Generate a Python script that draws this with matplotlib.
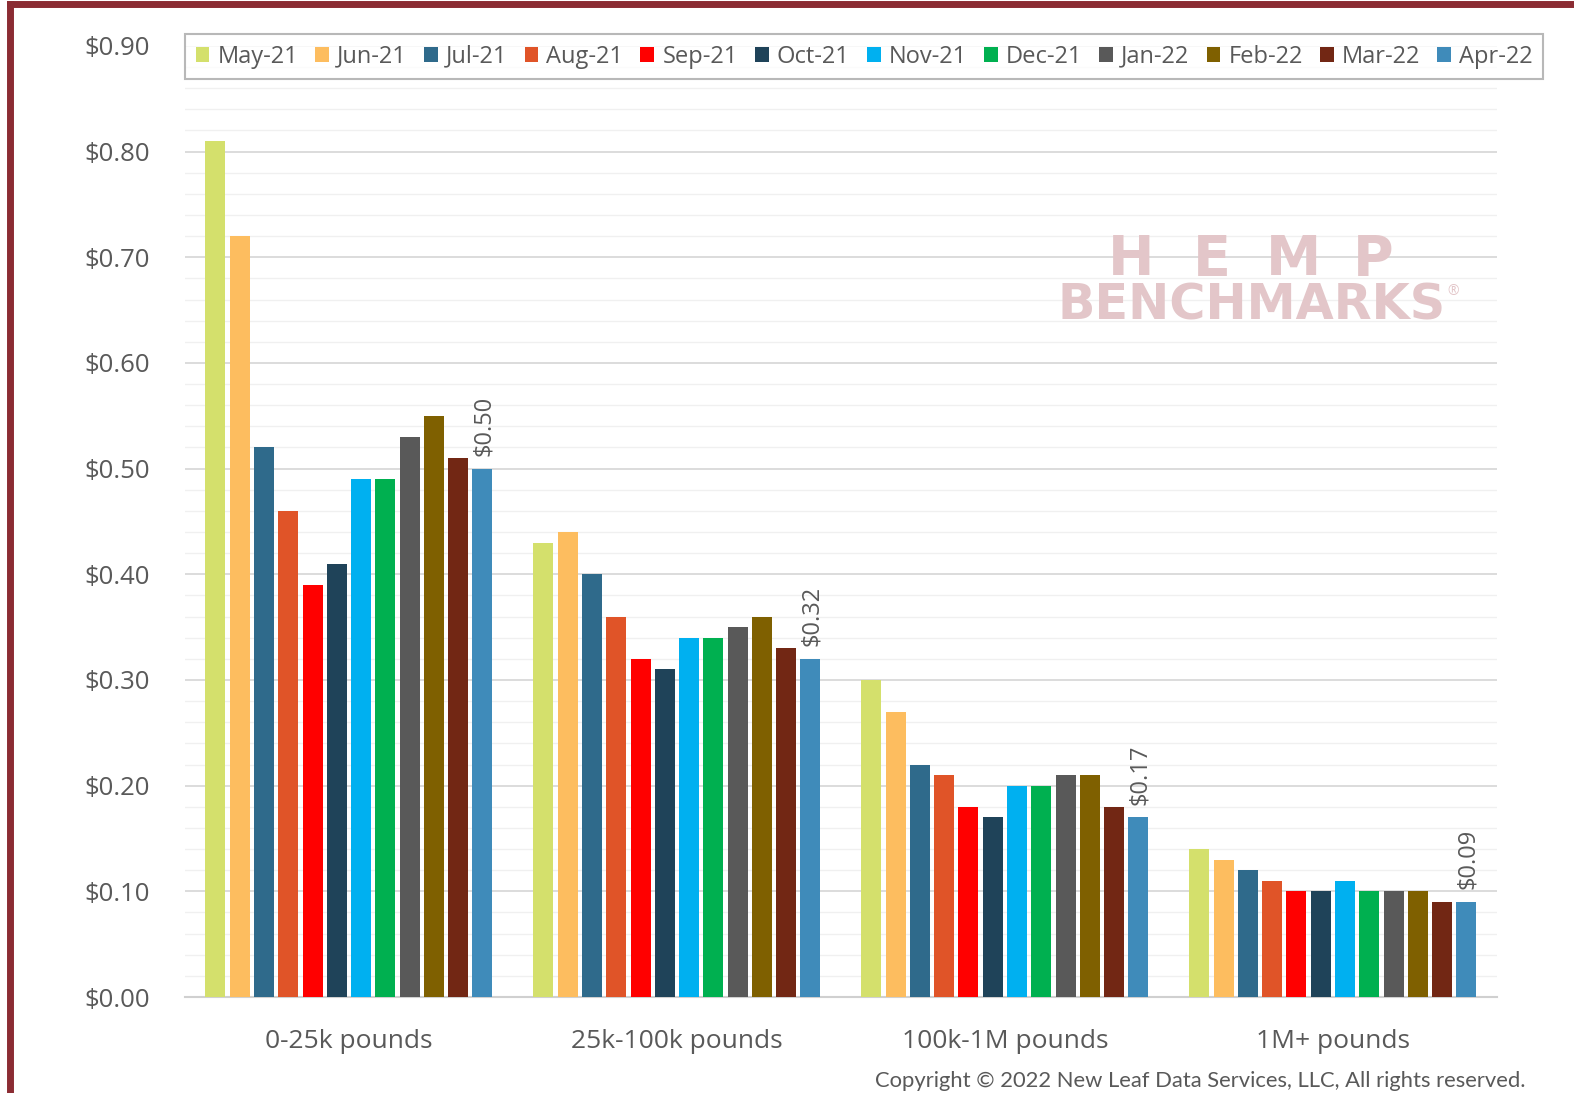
import numpy as np
import matplotlib.pyplot as plt
from matplotlib.patches import Patch
from matplotlib.ticker import MultipleLocator, FuncFormatter

plt.rcParams['font.family'] = ['Open Sans', 'DejaVu Sans']

groups = ['0-25k pounds', '25k-100k pounds', '100k-1M pounds', '1M+ pounds']
months = ['May-21', 'Jun-21', 'Jul-21', 'Aug-21', 'Sep-21', 'Oct-21',
          'Nov-21', 'Dec-21', 'Jan-22', 'Feb-22', 'Mar-22', 'Apr-22']
colors = ['#D4E06C', '#FDBD5F', '#2F6A8B', '#E05428', '#FF0000', '#1F4359',
          '#00B0F0', '#00B050', '#595959', '#7F6000', '#722714', '#3F8BBA']

price_0_25k = [0.81, 0.72, 0.52, 0.46, 0.39, 0.41, 0.49, 0.49, 0.53, 0.55, 0.51, 0.50]
price_25k_100k = [0.43, 0.44, 0.40, 0.36, 0.32, 0.31, 0.34, 0.34, 0.35, 0.36, 0.33, 0.32]
price_100k_1m = [0.30, 0.27, 0.22, 0.21, 0.18, 0.17, 0.20, 0.20, 0.21, 0.21, 0.18, 0.17]
price_1m_plus = [0.14, 0.13, 0.12, 0.11, 0.10, 0.10, 0.11, 0.10, 0.10, 0.10, 0.09, 0.09]

data = np.array([price_0_25k, price_25k_100k, price_100k_1m, price_1m_plus])
gray = '#595959'
wm = '#e3c6c9'

fig = plt.figure(figsize=(15.74, 10.93), dpi=100)
ax = fig.add_axes([0.1175, 0.0878, 0.8335, 0.8702])

x = np.arange(len(groups))
step = 0.074
width = 0.061
for i, m in enumerate(months):
    offs = (i - 5.5) * step
    ax.bar(x + offs, data[:, i], width=width, color=colors[i], zorder=3)

# labels on the latest month
for g in range(len(groups)):
    v = data[g, -1]
    ax.text(x[g] + 5.5 * step + 0.005, v + 0.012, f'${v:.2f}', rotation=90,
            ha='center', va='bottom', fontsize=17, color=gray, zorder=4)

ax.set_xlim(-0.5, 3.5)
ax.set_ylim(0, 0.9)
ax.yaxis.set_major_locator(MultipleLocator(0.1))
ax.yaxis.set_minor_locator(MultipleLocator(0.02))
ax.yaxis.set_major_formatter(FuncFormatter(lambda v, p: f'${v:.2f}'))
ax.grid(axis='y', which='major', color='#d9d9d9', lw=1.3, zorder=0)
ax.grid(axis='y', which='minor', color='#f0f0f0', lw=1.0, zorder=0)
ax.set_xticks(x)
ax.set_xticklabels(groups)
ax.tick_params(axis='both', which='both', length=0, labelcolor=gray)
ax.tick_params(axis='y', labelsize=18.5, pad=25)
ax.tick_params(axis='x', labelsize=19, pad=23)
for s in ['top', 'right', 'left']:
    ax.spines[s].set_visible(False)
ax.spines['bottom'].set_color('#d0d0d0')
ax.spines['bottom'].set_linewidth(1.5)

# watermark
for letter, xf in zip('HEMP', [0.721, 0.783, 0.845, 0.906]):
    ax.text(xf, 0.759, letter, transform=ax.transAxes, ha='center', va='baseline',
            fontsize=40, fontweight='bold', color=wm, zorder=2, family='DejaVu Sans')
ax.text(0.813, 0.712, 'BENCHMARKS', transform=ax.transAxes, ha='center', va='baseline',
        fontsize=35.5, color=wm, zorder=2, family='DejaVu Sans', fontweight='bold')
ax.text(0.967, 0.738, '®', transform=ax.transAxes, ha='center', va='baseline',
        fontsize=10, color=wm, zorder=2)

handles = [Patch(facecolor=c, label=m) for c, m in zip(colors, months)]
leg = fig.legend(handles=handles, loc='center', ncol=12, bbox_to_anchor=(0.549, 0.948),
                 fontsize=17, frameon=True, fancybox=False, handlelength=0.59,
                 handleheight=0.59, handletextpad=0.34, columnspacing=0.72,
                 borderpad=0.45, labelcolor=gray)
leg.get_frame().set_edgecolor('#a6a6a6')
leg.get_frame().set_linewidth(1.5)

fig.text(0.969, 0.002, 'Copyright \u00a9 2022 New Leaf Data Services, LLC, All rights reserved.',
         ha='right', va='bottom', fontsize=15.8, color=gray, family='Lato')

# frame lines at top and left
fig.add_artist(plt.Line2D([0.0065, 0.0065], [0, 0.996], color='#8B2C33', lw=5))
fig.add_artist(plt.Line2D([0.0065, 1.0], [0.996, 0.996], color='#8B2C33', lw=5))

fig.savefig('out.png', dpi=100)
